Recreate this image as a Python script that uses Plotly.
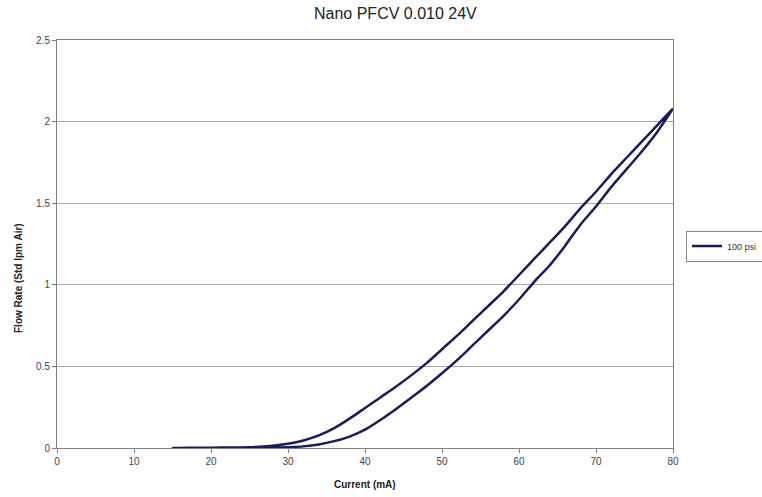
import plotly.graph_objects as go

# Up-sweep (increasing current) - lower branch
current_up = [15, 20, 25, 28, 30, 32, 34, 36, 38, 40, 42, 44, 46, 48, 50, 52, 54, 56, 58, 60,
              62, 64, 66, 68, 70, 72, 74, 76, 78, 80]
flow_up = [0.0, 0.0, 0.0, 0.002, 0.005, 0.01, 0.022, 0.042, 0.07, 0.112, 0.172, 0.238, 0.308, 0.38,
           0.458, 0.54, 0.63, 0.72, 0.81, 0.91, 1.02, 1.12, 1.24, 1.37, 1.48, 1.60, 1.71, 1.82, 1.94, 2.08]

# Down-sweep (decreasing current) - upper branch
current_down = [80, 78, 76, 74, 72, 70, 68, 66, 64, 62, 60, 58, 56, 54, 52, 50, 48, 46, 44, 42,
                40, 38, 36, 34, 32, 30, 28, 25, 20, 15]
flow_down = [2.08, 1.98, 1.88, 1.78, 1.68, 1.57, 1.47, 1.36, 1.26, 1.16, 1.06, 0.96, 0.87, 0.78,
             0.69, 0.605, 0.52, 0.445, 0.375, 0.31, 0.245, 0.18, 0.122, 0.077, 0.046, 0.026, 0.014,
             0.005, 0.002, 0.0]

x_ticks = [0, 10, 20, 30, 40, 50, 60, 70, 80]
y_ticks = [0, 0.5, 1, 1.5, 2, 2.5]
y_tick_labels = ["0", "0.5", "1", "1.5", "2", "2.5"]

series_name = "100 psi"
title_text = "Nano PFCV 0.010 24V"
x_title = "Current (mA)"
y_title = "Flow Rate (Std lpm Air)"

# plot area target in window: x 57..673, y 40..448 (body margin removed by post_script)
fig = go.Figure()
fig.add_trace(go.Scatter(
    x=current_up + current_down,
    y=flow_up + flow_down,
    mode="lines",
    name=series_name,
    line=dict(color="#1a1a5e", width=2.5, shape="spline", smoothing=0.8),
    showlegend=True,
))

FONT = "Liberation Sans, Arial, sans-serif"
axis_font = dict(family=FONT, size=10, color="#444444")
PW, PH = 616, 408

fig.update_layout(
    width=762, height=497,
    margin=dict(l=57, r=89, t=40, b=49, autoexpand=False),
    paper_bgcolor="white", plot_bgcolor="white",
    showlegend=True,
    legend=dict(x=(686 - 57) / PW, xanchor="left", y=(448 - 246) / PH, yanchor="middle",
                bordercolor="#888888", borderwidth=1, bgcolor="white",
                font=dict(family=FONT, size=9, color="#333333"),
                itemwidth=30),
    xaxis=dict(range=[0, 80], tickvals=x_ticks, ticktext=[str(v) for v in x_ticks],
               showgrid=False, zeroline=False, showline=True, linecolor="#808080", linewidth=1,
               mirror=True, ticks="outside", ticklen=4, tickcolor="#808080",
               tickfont=axis_font),
    yaxis=dict(range=[0, 2.5], tickvals=y_ticks, ticktext=y_tick_labels,
               showgrid=True, gridcolor="#a8a8a8", gridwidth=1, zeroline=False,
               showline=True, linecolor="#808080", linewidth=1, mirror=True,
               ticks="outside", ticklen=4, tickcolor="#808080", tickfont=axis_font),
    annotations=[
        dict(text=title_text, xref="paper", yref="paper", x=(395 - 57) / PW, y=1 + 27 / PH,
             xanchor="center", yanchor="middle", showarrow=False,
             font=dict(family=FONT, size=16, color="#222222")),
        dict(text="<b>" + x_title + "</b>", xref="paper", yref="paper", x=(365 - 57) / PW,
             y=-(485 - 448) / PH, xanchor="center", yanchor="middle", showarrow=False,
             font=dict(family=FONT, size=10, color="#222222")),
        dict(text="<b>" + y_title + "</b>", xref="paper", yref="paper", x=-(57 - 18) / PW,
             y=(448 - 278) / PH, xanchor="center", yanchor="middle", showarrow=False,
             textangle=-90,
             font=dict(family=FONT, size=10, color="#222222")),
    ],
)

fig.write_html("out.html",
               config={"displayModeBar": False},
               post_script="document.body.style.margin='0';document.body.style.overflow='hidden';")
